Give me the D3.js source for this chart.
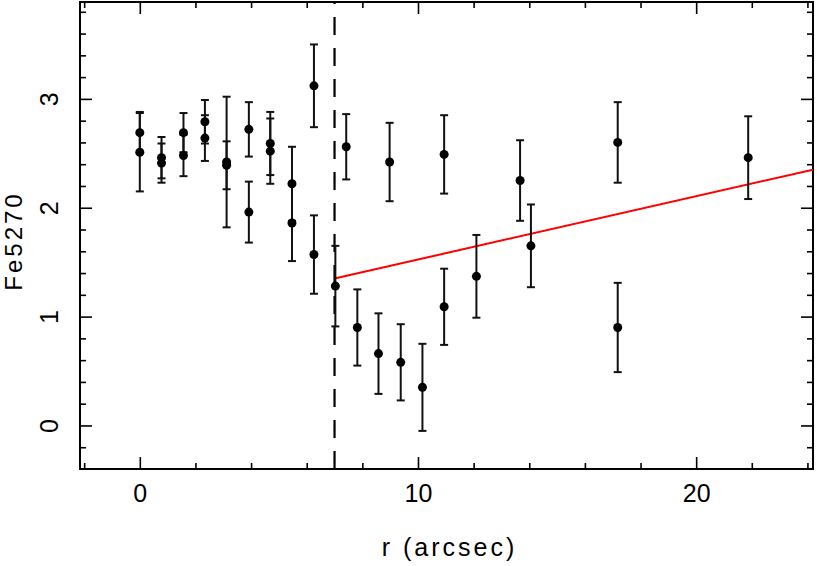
<!DOCTYPE html>
<html>
<head>
<meta charset="utf-8">
<script src="https://cdn.jsdelivr.net/npm/d3@7"></script>
<style>
  html, body { margin: 0; padding: 0; background: #fff; }
  svg { display: block; }
  text { font-family: "Liberation Sans", Arial, sans-serif; fill: #000; }
</style>
</head>
<body>
<svg id="chart" width="817" height="566"></svg>
<script>
// ---- data ----
const radius = [0, 0, 0.78, 0.78, 1.57, 1.57, 2.34, 2.34, 3.12, 3.12, 3.92, 3.92,
  4.69, 4.69, 5.47, 5.47, 6.26, 6.26, 7.03, 7.42, 7.82, 8.58, 8.98, 9.38, 10.16,
  10.94, 10.94, 12.1, 13.67, 14.06, 17.18, 17.18, 21.87];
const fe5270 = [2.69, 2.51, 2.46, 2.41, 2.69, 2.48, 2.79, 2.64, 2.42, 2.39, 2.72, 1.96,
  2.59, 2.52, 2.22, 1.86, 3.12, 1.57, 1.28, 2.56, 0.90, 0.66, 2.42, 0.58, 0.35,
  1.09, 2.49, 1.37, 2.25, 1.65, 2.60, 0.90, 2.46];
const feErr = [0.19, 0.36, 0.19, 0.18, 0.18, 0.19, 0.20, 0.21, 0.60, 0.22, 0.25, 0.28,
  0.29, 0.30, 0.34, 0.35, 0.38, 0.36, 0.37, 0.30, 0.35, 0.37, 0.36, 0.35, 0.40,
  0.35, 0.36, 0.38, 0.37, 0.38, 0.37, 0.41, 0.38];
const fitR = [7, 24.2];
const fitFe = [1.35, 2.35];
const breakRadius = 7;

const xMajorTicks = [0, 10, 20];
const xMinorTicks = [-2, 2, 4, 6, 8, 12, 14, 16, 18, 22, 24];
const yMajorTicks = [0, 1, 2, 3];
const yMinorTicks = [-0.2, 0.2, 0.4, 0.6, 0.8, 1.2, 1.4, 1.6, 1.8, 2.2, 2.4, 2.6, 2.8, 3.2, 3.4, 3.6, 3.8];

const xLabel = "r (arcsec)";
const yLabel = "Fe5270";

// ---- layout ----
const L = 80, R = 813, T = 2, B = 469;
const svg = d3.select("#chart");
const x = d3.scaleLinear().domain([-2.15, 24.2]).range([L, R]);
const y = d3.scaleLinear().domain([-0.4, 3.89]).range([B, T]);

svg.append("defs").append("clipPath").attr("id", "clip")
  .append("rect").attr("x", L).attr("y", T).attr("width", R - L).attr("height", B - T);

const FS = 25;
function styleAxis(g) {
  g.select(".domain").remove();
  g.selectAll(".tick line").attr("stroke", "#000").attr("stroke-width", 1.6);
  g.selectAll("text").style("font-size", FS + "px").attr("fill", "#000");
}

// bottom
svg.append("g").attr("transform", `translate(0,${B})`)
  .call(d3.axisBottom(x).tickValues(xMajorTicks).tickSize(-12).tickPadding(15).tickFormat(d3.format("d")))
  .call(styleAxis);
svg.append("g").attr("transform", `translate(0,${B})`)
  .call(d3.axisBottom(x).tickValues(xMinorTicks).tickSize(-6).tickFormat(""))
  .call(styleAxis);
// top
svg.append("g").attr("transform", `translate(0,${T})`)
  .call(d3.axisTop(x).tickValues(xMajorTicks).tickSize(-12).tickFormat(""))
  .call(styleAxis);
svg.append("g").attr("transform", `translate(0,${T})`)
  .call(d3.axisTop(x).tickValues(xMinorTicks).tickSize(-6).tickFormat(""))
  .call(styleAxis);
// left
const leftAx = svg.append("g").attr("transform", `translate(${L},0)`)
  .call(d3.axisLeft(y).tickValues(yMajorTicks).tickSize(-12).tickFormat(d3.format("d")))
  .call(styleAxis);
leftAx.selectAll("text")
  .attr("x", null).attr("dy", null)
  .attr("text-anchor", "middle")
  .attr("transform", "translate(-22,0) rotate(-90)");
svg.append("g").attr("transform", `translate(${L},0)`)
  .call(d3.axisLeft(y).tickValues(yMinorTicks).tickSize(-6).tickFormat(""))
  .call(styleAxis);
// right
svg.append("g").attr("transform", `translate(${R},0)`)
  .call(d3.axisRight(y).tickValues(yMajorTicks).tickSize(-12).tickFormat(""))
  .call(styleAxis);
svg.append("g").attr("transform", `translate(${R},0)`)
  .call(d3.axisRight(y).tickValues(yMinorTicks).tickSize(-6).tickFormat(""))
  .call(styleAxis);

// frame
svg.append("rect").attr("x", L).attr("y", T).attr("width", R - L).attr("height", B - T)
  .attr("fill", "none").attr("stroke", "#000").attr("stroke-width", 2);

// axis titles
svg.append("text").attr("x", (L + R) / 2 + 3).attr("y", 556)
  .attr("text-anchor", "middle").style("font-size", FS + "px").style("letter-spacing", "3px")
  .text(xLabel);
svg.append("text").attr("transform", "translate(22,241) rotate(-90)")
  .attr("text-anchor", "middle").style("font-size", "24px").style("letter-spacing", "3px")
  .text(yLabel);

const plot = svg.append("g").attr("clip-path", "url(#clip)");

// dashed vertical line
plot.append("line")
  .attr("x1", x(breakRadius)).attr("x2", x(breakRadius))
  .attr("y1", B).attr("y2", T)
  .attr("stroke", "#000").attr("stroke-width", 2.2)
  .attr("stroke-dasharray", "18,13");

// fit line
const fitData = fitR.map((r, i) => [r, fitFe[i]]);
plot.append("path")
  .datum(fitData)
  .attr("d", d3.line().x(d => x(d[0])).y(d => y(d[1])))
  .attr("fill", "none").attr("stroke", "#ff0000").attr("stroke-width", 2);

// error bars
const pts = radius.map((r, i) => ({ r, v: fe5270[i], e: feErr[i] }));
const eb = plot.append("g").attr("stroke", "#111").attr("stroke-width", 2);
eb.selectAll("line.v").data(pts).join("line").attr("class", "v")
  .attr("x1", d => x(d.r)).attr("x2", d => x(d.r))
  .attr("y1", d => y(d.v - d.e)).attr("y2", d => y(d.v + d.e));
eb.selectAll("line.t").data(pts).join("line").attr("class", "t")
  .attr("x1", d => x(d.r) - 4).attr("x2", d => x(d.r) + 4)
  .attr("y1", d => y(d.v + d.e)).attr("y2", d => y(d.v + d.e));
eb.selectAll("line.b").data(pts).join("line").attr("class", "b")
  .attr("x1", d => x(d.r) - 4).attr("x2", d => x(d.r) + 4)
  .attr("y1", d => y(d.v - d.e)).attr("y2", d => y(d.v - d.e));

// points
plot.append("g").selectAll("circle").data(pts).join("circle")
  .attr("cx", d => x(d.r)).attr("cy", d => y(d.v)).attr("r", 4.5)
  .attr("fill", "#000");
</script>
</body>
</html>
